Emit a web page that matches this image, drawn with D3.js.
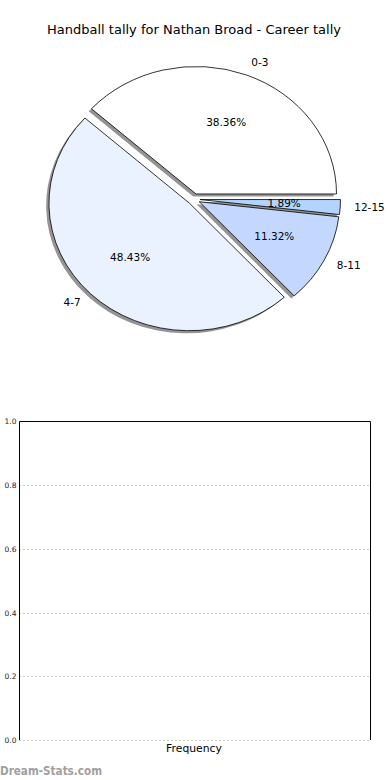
<!DOCTYPE html>
<html>
<head>
<meta charset="utf-8">
<script src="https://cdn.jsdelivr.net/npm/d3@7"></script>
<style>
  html, body { margin: 0; padding: 0; background: #fff; }
  svg { display: block; font-family: "DejaVu Sans", sans-serif; }
</style>
</head>
<body>
<svg id="chart" width="390" height="780"></svg>
<script>
const titleText = "Handball tally for Nathan Broad - Career tally";
const categories = ["0-3", "4-7", "8-11", "12-15"];
const shares = [38.36, 48.43, 11.32, 1.89];
const sliceColors = ["#ffffff", "#ebf2ff", "#c4d8ff", "#b2d4ff"];
const yTicks = [0.0, 0.2, 0.4, 0.6, 0.8, 1.0];
const xLabel = "Frequency";
const watermark = "Dream-Stats.com";

(function () {
const svg = d3.select("#chart");

svg.append("text").attr("x", 194).attr("y", 30)
  .attr("text-anchor", "middle").attr("dominant-baseline", "middle")
  .attr("font-size", 13).attr("fill", "#000").text(titleText);

const cx = 193.8, cy = 199.2, rx = 140.5, ry = 127.5, explode = 0.044;
const pie = d3.pie().sort(null).startAngle(Math.PI / 2).endAngle(Math.PI / 2 - 2 * Math.PI);
const arcs = pie(shares);
const unitArc = d3.arc().innerRadius(0).outerRadius(1);

function mid(a) {
  const m = (a.startAngle + a.endAngle) / 2;
  return [Math.sin(m), -Math.cos(m)];
}

const gPie = svg.append("g");
arcs.forEach((a) => {
  const [ux, uy] = mid(a);
  const ox = cx + explode * rx * ux - 0.02 * rx;
  const oy = cy + explode * ry * uy + 0.02 * ry;
  gPie.append("path").attr("d", unitArc(a))
    .attr("transform", `translate(${ox},${oy}) scale(${rx},${ry})`)
    .attr("fill", "#3d3d3d").attr("fill-opacity", 0.55);
});
arcs.forEach((a, i) => {
  const [ux, uy] = mid(a);
  const ox = cx + explode * rx * ux;
  const oy = cy + explode * ry * uy;
  gPie.append("path").attr("d", unitArc(a))
    .attr("transform", `translate(${ox},${oy}) scale(${rx},${ry})`)
    .attr("fill", sliceColors[i]).attr("stroke", "#000")
    .attr("stroke-width", 0.8).attr("vector-effect", "non-scaling-stroke")
    .attr("stroke-linejoin", "miter");
});
arcs.forEach((a, i) => {
  const [ux, uy] = mid(a);
  const ox = cx + explode * rx * ux;
  const oy = cy + explode * ry * uy;
  const lx = ox + 1.1 * rx * ux, ly = oy + 1.1 * ry * uy;
  svg.append("text").attr("x", lx).attr("y", ly)
    .attr("text-anchor", ux > 0 ? "start" : "end")
    .attr("dominant-baseline", "middle")
    .attr("font-size", 10.5).attr("fill", "#000").text(categories[i]);
  const px = ox + 0.6 * rx * ux, py = oy + 0.6 * ry * uy;
  svg.append("text").attr("x", px).attr("y", py)
    .attr("text-anchor", "middle").attr("dominant-baseline", "middle")
    .attr("font-size", 10.5).attr("fill", "#000")
    .text(d3.format(".2f")(a.data) + "%");
});

const axL = 19.5, axR = 370.5, axT = 421.5, axB = 740;
const y = d3.scaleLinear().domain([0, 1]).range([axB, axT]);
const gAx = svg.append("g");
gAx.selectAll("line.grid").data(yTicks.filter(t => t < 1)).enter().append("line")
  .attr("x1", axL).attr("x2", axR)
  .attr("y1", d => Math.round(y(d)) + 0.5).attr("y2", d => Math.round(y(d)) + 0.5)
  .attr("stroke", "#999").attr("stroke-width", 1).attr("stroke-dasharray", "1,3");
gAx.append("path")
  .attr("d", `M${axL},${axB}V${axT}H${axR}V${axB}`)
  .attr("fill", "none").attr("stroke", "#000").attr("stroke-width", 1);
const yAxis = d3.axisLeft(y).tickValues(yTicks).tickFormat(d3.format(".1f")).tickSize(0).tickPadding(3);
const gY = svg.append("g").attr("transform", `translate(${axL},0)`).call(yAxis);
gY.select(".domain").remove();
gY.selectAll("text").attr("font-size", 7.5).attr("fill", "#222")
  .attr("font-family", "DejaVu Sans, sans-serif");

svg.append("text").attr("x", 194).attr("y", 749)
  .attr("text-anchor", "middle").attr("dominant-baseline", "middle")
  .attr("font-size", 10.8).attr("fill", "#000").text(xLabel);

svg.append("text").attr("x", 0).attr("y", 775)
  .attr("font-size", 11.5).attr("font-weight", "600").attr("fill", "#a0a0a0")
  .attr("textLength", 102).attr("lengthAdjust", "spacingAndGlyphs")
  .text(watermark);
})();
</script>
</body>
</html>
